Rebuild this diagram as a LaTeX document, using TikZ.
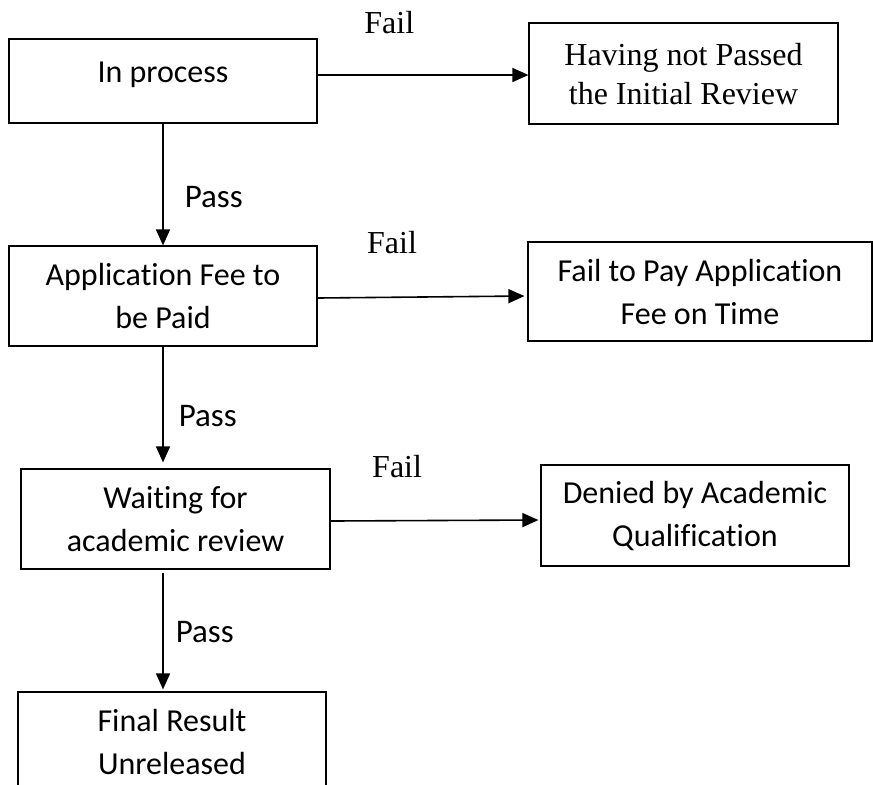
\documentclass[tikz,border=0pt]{standalone}
\usepackage{fontspec}
\setmainfont[Ligatures=CommonOff]{Carlito}
\newfontfamily\timesfont{Liberation Serif}
\usepackage{tikz}
\usetikzlibrary{shapes.geometric, arrows, arrows.meta, calc, positioning}
\tikzstyle{stage} = [rectangle, minimum width=154pt, minimum height=50pt, text centered, align=center, draw=black, line width=0.6pt, font=\fontsize{16pt}{21.5pt}\selectfont]
\tikzstyle{verdict} = [inner sep=0pt, font=\fontsize{16.5pt}{18pt}\selectfont]
\tikzstyle{failnote} = [inner sep=0pt, font=\timesfont\fontsize{16pt}{18pt}\selectfont]
\tikzstyle{arrow} = [->, >={Triangle[length=8pt, width=7pt]}, line width=0.8pt]

\begin{document}
\begin{tikzpicture}[node distance=1.0cm]
\useasboundingbox (0,0) rectangle (436.5pt,-392pt);
\clip (0,0) rectangle (436.5pt,-392pt);
% Draw shapes
\node (inproc) [stage, minimum height=42pt, text depth=9pt] at (81.5pt,-40.5pt)
{In process};
\node (appfee) [stage, below of = inproc, node distance=107.5pt]
{Application Fee to\\be Paid};
\node (waiting) [stage, below of = appfee, node distance=111.5pt, xshift=6.25pt, minimum width=154.5pt]
{Waiting for\\academic review};
\node (final) [stage, below of = waiting, node distance=111.5pt, xshift=-1.75pt]
{Final Result\\Unreleased};
\node (noinit) [stage, right of = inproc, node distance=260.25pt, yshift=3.75pt, minimum width=154.5pt, minimum height=50.5pt, text depth=0pt, font=\timesfont\fontsize{16pt}{19.5pt}\selectfont]
{Having not Passed\\the Initial Review};
\node (nopay) [stage, right of = appfee, node distance=268.5pt, yshift=2.25pt, minimum width=172pt, minimum height=49.5pt]
{Fail to Pay Application\\Fee on Time};
\node (denied) [stage, right of = waiting, node distance=259.75pt, yshift=1.75pt, minimum height=50.5pt]
{Denied by Academic\\Qualification};
% Draw arrows
\draw [arrow] ([yshift=3pt]inproc.east) -- node [failnote, pos=0.34, above=20pt] {Fail} ([yshift=-0.75pt]noinit.west);
\draw [arrow] ([yshift=-1pt]appfee.east) -- node [failnote, pos=0.36, above=21.5pt] {Fail} ([yshift=-2.25pt, xshift=-1.5pt]nopay.west);
\draw [arrow] ([yshift=-1pt]waiting.east) -- node [failnote, pos=0.32, above=21pt] {Fail} ([yshift=-2.25pt, xshift=-1pt]denied.west);
\draw [arrow] (inproc) -- node [verdict, pos=0.6, right=10.5pt] {Pass} (appfee);
\draw [arrow, shorten >=3pt] (appfee) -- node [verdict, pos=0.57, right=7.5pt] {Pass} (appfee |- waiting.north);
\draw [arrow, shorten <=1.5pt, shorten >=1pt] (waiting.south -| appfee) -- node [verdict, pos=0.51, right=6pt] {Pass} (final.north -| appfee);
\end{tikzpicture}
\end{document}
